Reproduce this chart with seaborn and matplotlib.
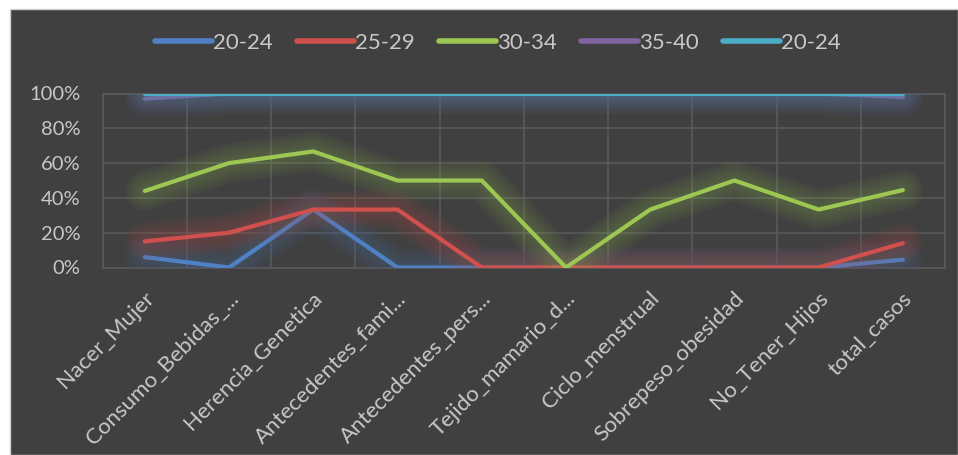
import numpy as np
import pandas as pd
import matplotlib
matplotlib.use("Agg")
import matplotlib.pyplot as plt
import matplotlib.patheffects as pe
import matplotlib.transforms as mtransforms
from matplotlib.patches import Rectangle
from matplotlib.lines import Line2D
import seaborn as sns

# Factors and age groups (100% stacked line chart)
categories = ["Nacer_Mujer", "Consumo_Bebidas_...", "Herencia_Genetica",
              "Antecedentes_fami...", "Antecedentes_pers...", "Tejido_mamario_d...",
              "Ciclo_menstrual", "Sobrepeso_obesidad", "No_Tener_Hijos", "total_casos"]

series_labels = ["20-24", "25-29", "30-34", "35-40", "20-24"]

# share of each age group per factor (%)
share_20_24 = [6.0, 0.0, 33.3, 0.0, 0.0, 0.0, 0.0, 0.0, 0.0, 4.5]
share_25_29 = [9.0, 20.0, 0.0, 33.3, 0.0, 0.0, 0.0, 0.0, 0.0, 9.5]
share_30_34 = [29.0, 40.0, 33.4, 16.7, 50.0, 0.0, 33.3, 50.0, 33.3, 30.5]
share_35_40 = [53.0, 40.0, 33.3, 50.0, 50.0, 100.0, 66.7, 50.0, 66.7, 53.5]
share_20_24b = [3.0, 0.0, 0.0, 0.0, 0.0, 0.0, 0.0, 0.0, 0.0, 2.0]

shares = [share_20_24, share_25_29, share_30_34, share_35_40, share_20_24b]
colors = ["#4F81C4", "#D0504D", "#9DC652", "#8064A2", "#4BACC6"]

# stacked (cumulative) percentages
cum = np.cumsum(np.array(shares), axis=0)

sns.set_theme(style="dark")
plt.rcParams["font.family"] = ["Lato", "DejaVu Sans"]

BG = "#404040"
GRID = "#595959"
TXT = "#C8C8C8"

fig = plt.figure(figsize=(9.58, 4.55), dpi=100, facecolor="white")
fig.patches.append(Rectangle((10 / 958, 0), 1 - 10 / 958, 1 - 9 / 455,
                             transform=fig.transFigure, facecolor=BG,
                             edgecolor="#D0D0D0", linewidth=1.0, zorder=-10))

ax = fig.add_axes([102.7 / 958, 1 - 267.5 / 455, (945 - 102.7) / 958, (267.5 - 93.5) / 455])
ax.set_facecolor(BG)

for i, (lab, col) in enumerate(zip(series_labels, colors)):
    df = pd.DataFrame({"factor": categories, "pct": cum[i]})
    # soft glow around each series
    glow = [pe.Stroke(linewidth=w, foreground=col, alpha=0.025,
                      capstyle="round", joinstyle="round")
            for w in range(30, 3, -2)]
    sns.lineplot(data=df, x="factor", y="pct", color=col, linewidth=3.0,
                 ax=ax, sort=False, zorder=3 + i,
                 path_effects=glow + [pe.Normal()])
for ln in ax.lines:
    ln.set_solid_capstyle("round")
    ln.set_solid_joinstyle("round")

ax.set_xlim(-0.5, len(categories) - 0.5)
ax.set_ylim(0, 100)
ax.set_yticks(np.arange(0, 101, 20))
ax.set_yticklabels([f"{v}%" for v in range(0, 101, 20)])
ax.set_xticks(np.arange(len(categories)))
ax.set_xticks(np.arange(-0.5, len(categories)), minor=True)
ax.set_xlabel("")
ax.set_ylabel("")

ax.grid(False)
ax.grid(True, which="minor", axis="x", color=GRID, linewidth=1.2)
ax.grid(True, which="major", axis="y", color=GRID, linewidth=1.2)
for s in ax.spines.values():
    s.set_visible(True)
    s.set_color(GRID)
    s.set_linewidth(1.2)
ax.tick_params(axis="both", which="both", length=0)
ax.tick_params(axis="y", pad=16, labelsize=14.5, labelcolor=TXT)
ax.tick_params(axis="x", pad=20, labelsize=16, labelcolor=TXT)

offset = mtransforms.ScaledTranslation(6 / 100, 0, fig.dpi_scale_trans)
for t in ax.get_xticklabels():
    t.set_rotation(45)
    t.set_ha("right")
    t.set_va("center")
    t.set_rotation_mode("anchor")
    t.set_transform(t.get_transform() + offset)

handles = [Line2D([0], [0], color=c, linewidth=4, solid_capstyle="round") for c in colors]
leg = fig.legend(handles, series_labels, loc="center", bbox_to_anchor=(498 / 958, 1 - 43 / 455),
                 ncol=5, frameon=False, fontsize=16, handlelength=2.57, handletextpad=0.05,
                 columnspacing=1.08, labelcolor=TXT)

fig.savefig("out.png", dpi=100, facecolor="white")
